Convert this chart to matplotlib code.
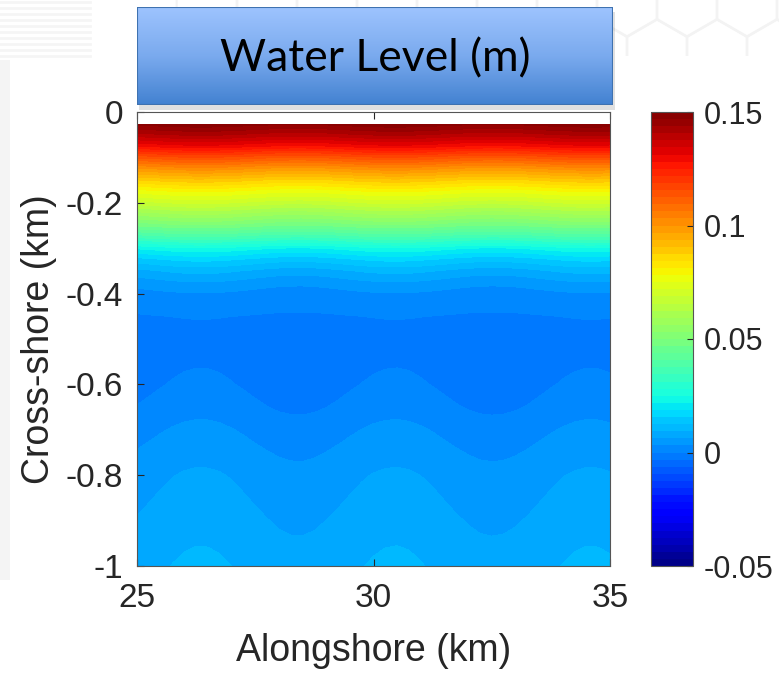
import numpy as np
import matplotlib.pyplot as plt
from matplotlib.colors import LinearSegmentedColormap
from matplotlib.patches import Rectangle, RegularPolygon

plt.rcParams['font.family'] = ['Liberation Sans', 'DejaVu Sans']
plt.rcParams['axes.unicode_minus'] = False

# alongshore stations (km) and the normalised alongshore wave in the level field
alongshore = np.arange(25, 35.01, 0.25)
wave = [-0.48, -0.11, 0.27, 0.61, 0.86, 0.99, 0.97, 0.82, 0.54, 0.19,
        -0.19, -0.54, -0.82, -0.97, -0.99, -0.86, -0.60, -0.26, 0.12, 0.48,
        0.77, 0.95, 1.00, 0.90, 0.66, 0.34, -0.04, -0.41, -0.72, -0.93,
        -1.00, -0.95, -0.77, -0.48, -0.11, 0.27, 0.61, 0.86, 0.99, 0.97,
        0.82]

# cross-shore stations (km), mean water level (m) and wave amplitude (m)
cross_shore = [-0.027, -0.05, -0.075, -0.10, -0.125, -0.15, -0.175, -0.20,
               -0.225, -0.25, -0.275, -0.30, -0.325, -0.35, -0.375, -0.40,
               -0.425, -0.45, -0.50, -0.55, -0.60, -0.65, -0.70, -0.75,
               -0.80, -0.85, -0.90, -0.95, -1.00]
level_mean = [0.148, 0.140, 0.129, 0.114, 0.100, 0.088, 0.077, 0.068,
              0.058, 0.048, 0.036, 0.023, 0.015, 0.009, 0.005, 0.0022,
              0.0008, -0.0001, -0.0014, -0.0016, -0.0006, 0.0008, 0.0025, 0.0040,
              0.0053, 0.0062, 0.0071, 0.0079, 0.0086]
wave_amp = [0.001, 0.0012, 0.0015, 0.0015, 0.0015, 0.0015, 0.0015, 0.0015,
            0.0015, 0.0015, 0.0015, 0.0015, 0.0015, 0.0014, 0.0011, 0.0007,
            0.0003, 0.0002, 0.0008, 0.0013, 0.0014, 0.0014, 0.0014, 0.0014,
            0.0014, 0.0014, 0.0014, 0.0014, 0.0014]

cbar_ticks = [-0.05, 0, 0.05, 0.1, 0.15]
cbar_labels = ['-0.05', '0', '0.05', '0.1', '0.15']
y_ticks = [-1, -0.8, -0.6, -0.4, -0.2, 0]
y_labels = ['-1', '-0.8', '-0.6', '-0.4', '-0.2', '0']
x_ticks = [25, 30, 35]

z = np.array(level_mean)[:, None] + np.array(wave_amp)[:, None] * np.array(wave)[None, :]

W, H = 779, 675
fig = plt.figure(figsize=(W / 100, H / 100), dpi=100)
fig.patch.set_facecolor('white')

# faint slide background: honeycomb top right, stripes top left
bg = fig.add_axes([0, 0, 1, 1], zorder=-5)
bg.set_xlim(0, W)
bg.set_ylim(H, 0)
bg.axis('off')
clip = Rectangle((0, 0), W, 56, transform=bg.transData)
r = 35
for row in range(2):
    for col in range(-8, 3):
        cx = 687 + col * 60 - (row % 2) * 30
        cy = 2 + row * 52
        hexa = RegularPolygon((cx, cy), 6, radius=r, fill=False,
                              ec='#f3f3f3', lw=1.5)
        bg.add_patch(hexa)
        hexa.set_clip_path(clip)
for yy in range(2, 60, 6):
    bg.plot([0, 90], [yy, yy], color='#f5f5f5', lw=2)
bg.add_patch(Rectangle((0, 60), 10, 520, fc='#f4f4f4', lw=0))

ax = fig.add_axes([137 / W, 1 - 566 / H, 473 / W, 454 / H])
levels = np.linspace(-0.05, 0.15, 65)
cs = ax.contourf(alongshore, cross_shore, z, levels=levels, cmap='jet')
ax.set_xlim(25, 35)
ax.set_ylim(-1, 0)
ax.set_xticks(x_ticks)
ax.set_yticks(y_ticks)
ax.set_yticklabels(y_labels)
ax.tick_params(direction='in', length=5, width=0.8, colors='#262626',
               labelsize=24, top=True, right=False)
ax.tick_params(axis='x', pad=12)
ax.tick_params(axis='y', pad=10)
for s in ax.spines.values():
    s.set_color('#555555')
    s.set_linewidth(0.8)
ax.set_xlabel('Alongshore (km)', fontsize=27, color='#262626', labelpad=14)
ax.set_ylabel('Cross-shore (km)', fontsize=27, color='#262626', labelpad=6)

cax = fig.add_axes([651 / W, 1 - 566 / H, 42 / W, 454 / H])
cb = fig.colorbar(cs, cax=cax, ticks=cbar_ticks)
cb.ax.set_yticklabels(cbar_labels)
cb.ax.tick_params(direction='in', length=4, width=0.8, colors='#262626',
                  labelsize=22, pad=8)
cb.outline.set_edgecolor('#555555')
cb.outline.set_linewidth(0.8)

# title banner with blue gradient and soft shadow
bx0, by0, bw, bh = 137, 7, 476, 98
sh = fig.add_axes([(bx0 + 2) / W, 1 - (by0 + bh + 5) / H, bw / W, bh / H], zorder=4)
sh.axis('off')
sh.add_patch(Rectangle((0, 0), 1, 1, fc='#000000', alpha=0.12, lw=0,
                       transform=sh.transAxes))
tax = fig.add_axes([bx0 / W, 1 - (by0 + bh) / H, bw / W, bh / H], zorder=5)
grad = LinearSegmentedColormap.from_list('banner', ['#9dc3fe', '#7aaaee', '#4382d1'])
tax.imshow(np.linspace(0, 1, 100)[:, None], aspect='auto', cmap=grad,
           extent=[0, 1, 0, 1])
tax.set_xlim(0, 1)
tax.set_ylim(0, 1)
tax.axis('off')
tax.add_patch(Rectangle((0, 0), 1, 1, fill=False, ec='#3f72b0', lw=1.5,
                        transform=tax.transAxes))
tax.text(0.5, 0.47, 'Water Level (m)', ha='center', va='center', fontsize=32,
         color='black', family=['Lato', 'DejaVu Sans'])

fig.savefig('out.png', dpi=100)
